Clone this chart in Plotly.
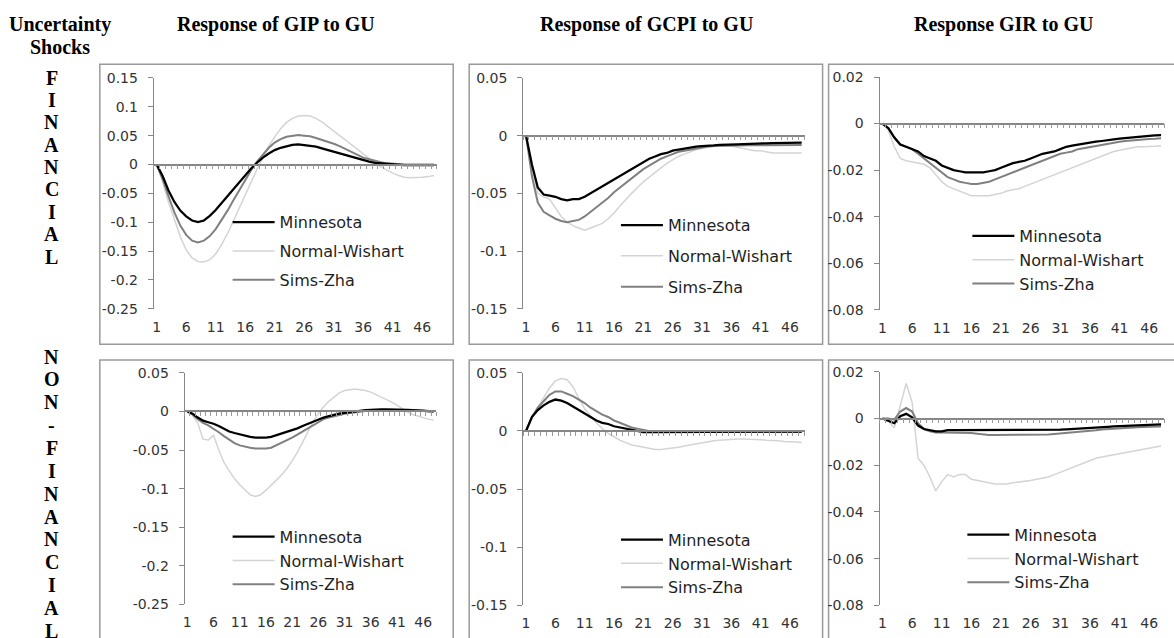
import plotly.graph_objects as go

W, H = 1174, 638          # reference geometry (all pixel positions below refer to it)
FIG_H = 645               # rendered height (compensates the slight vertical squeeze seen)

# ---------------- data ----------------
periods = list(range(1, 49))
tick_periods = [1, 6, 11, 16, 21, 26, 31, 36, 41, 46]
series_names = ["Minnesota", "Normal-Wishart", "Sims-Zha"]
column_titles = ["Response of GIP to GU", "Response of GCPI to GU", "Response GIR to GU"]
row_labels = ["FINANCIAL", "NON-FINANCIAL"]
corner_label = ["Uncertainty", "Shocks"]

# Financial uncertainty shock
fin_gip_minnesota = [0, -0.02, -0.045, -0.065, -0.08, -0.09, -0.097, -0.100, -0.097, -0.089,
                     -0.079, -0.067, -0.055, -0.042, -0.030, -0.018, -0.007, 0.003, 0.012, 0.019,
                     0.025, 0.029, 0.032, 0.034, 0.035, 0.034, 0.033, 0.031, 0.028, 0.025,
                     0.022, 0.019, 0.016, 0.013, 0.010, 0.007, 0.005, 0.003, 0.002, 0.001,
                     0.0, 0.0, -0.001, -0.001, -0.001, -0.001, -0.001, -0.001]
fin_gip_normal_wishart = [0, -0.03, -0.065, -0.097, -0.125, -0.148, -0.162, -0.168, -0.169, -0.165,
                          -0.155, -0.139, -0.12, -0.098, -0.075, -0.052, -0.03, -0.008, 0.012, 0.032,
                          0.048, 0.062, 0.073, 0.080, 0.084, 0.085, 0.084, 0.080, 0.074, 0.066,
                          0.058, 0.050, 0.042, 0.034, 0.026, 0.018, 0.010, 0.003, -0.004, -0.010,
                          -0.015, -0.019, -0.022, -0.023, -0.023, -0.022, -0.021, -0.019]
fin_gip_sims_zha = [0, -0.025, -0.055, -0.083, -0.106, -0.122, -0.132, -0.135, -0.132, -0.124,
                    -0.112, -0.097, -0.080, -0.062, -0.044, -0.026, -0.010, 0.005, 0.018, 0.029,
                    0.038, 0.044, 0.048, 0.050, 0.051, 0.050, 0.049, 0.046, 0.043, 0.040,
                    0.036, 0.032, 0.027, 0.022, 0.017, 0.012, 0.009, 0.006, 0.004, 0.002,
                    0.001, 0, 0, 0, 0, 0, 0, 0]

fin_gcpi_minnesota = [0, -0.025, -0.045, -0.051, -0.052, -0.053, -0.055, -0.056, -0.055, -0.055,
                      -0.053, -0.050, -0.047, -0.044, -0.041, -0.038, -0.035, -0.032, -0.029, -0.026,
                      -0.023, -0.020, -0.018, -0.016, -0.015, -0.013, -0.012, -0.011, -0.010, -0.0095,
                      -0.009, -0.009, -0.0085, -0.008, -0.008, -0.0078, -0.0075, -0.0073, -0.007, -0.007,
                      -0.0068, -0.0066, -0.0065, -0.0064, -0.0063, -0.0062, -0.0061, -0.006]
fin_gcpi_normal_wishart = [0, -0.028, -0.050, -0.053, -0.055, -0.062, -0.070, -0.075, -0.078, -0.080,
                           -0.082, -0.080, -0.078, -0.076, -0.072, -0.067, -0.061, -0.055, -0.050, -0.045,
                           -0.040, -0.036, -0.032, -0.028, -0.024, -0.021, -0.018, -0.016, -0.014, -0.012,
                           -0.011, -0.010, -0.0095, -0.009, -0.009, -0.009, -0.010, -0.011, -0.012, -0.013,
                           -0.013, -0.014, -0.015, -0.015, -0.015, -0.015, -0.015, -0.015]
fin_gcpi_sims_zha = [0, -0.035, -0.058, -0.066, -0.069, -0.072, -0.074, -0.075, -0.074, -0.073,
                     -0.070, -0.066, -0.062, -0.058, -0.054, -0.049, -0.045, -0.041, -0.037, -0.033,
                     -0.029, -0.026, -0.023, -0.020, -0.018, -0.016, -0.014, -0.013, -0.012, -0.011,
                     -0.010, -0.0095, -0.009, -0.009, -0.009, -0.0088, -0.0086, -0.0085, -0.0084, -0.0083,
                     -0.0082, -0.0081, -0.008, -0.008, -0.008, -0.008, -0.008, -0.008]

fin_gir_minnesota = [0, -0.002, -0.006, -0.009, -0.010, -0.011, -0.012, -0.014, -0.015, -0.016,
                     -0.018, -0.019, -0.020, -0.0205, -0.021, -0.021, -0.021, -0.021, -0.0205, -0.020,
                     -0.019, -0.018, -0.017, -0.0165, -0.016, -0.015, -0.014, -0.013, -0.0125, -0.012,
                     -0.011, -0.010, -0.0095, -0.009, -0.0085, -0.008, -0.0078, -0.0075, -0.007, -0.0068,
                     -0.0065, -0.0062, -0.006, -0.0058, -0.0055, -0.0053, -0.0051, -0.005]
fin_gir_normal_wishart = [0, -0.003, -0.010, -0.015, -0.016, -0.0165, -0.017, -0.0175, -0.019, -0.022,
                          -0.025, -0.027, -0.028, -0.029, -0.030, -0.031, -0.031, -0.031, -0.031, -0.0305,
                          -0.030, -0.029, -0.0285, -0.028, -0.027, -0.026, -0.025, -0.024, -0.023, -0.022,
                          -0.021, -0.020, -0.019, -0.018, -0.017, -0.016, -0.015, -0.014, -0.013, -0.012,
                          -0.0115, -0.011, -0.0105, -0.010, -0.010, -0.010, -0.0098, -0.0095]
fin_gir_sims_zha = [0, -0.002, -0.006, -0.009, -0.010, -0.011, -0.013, -0.015, -0.017, -0.019,
                    -0.021, -0.023, -0.024, -0.025, -0.0255, -0.026, -0.026, -0.0255, -0.025, -0.024,
                    -0.023, -0.022, -0.021, -0.020, -0.019, -0.018, -0.017, -0.016, -0.015, -0.014,
                    -0.013, -0.0125, -0.012, -0.011, -0.0105, -0.010, -0.0095, -0.009, -0.0085, -0.008,
                    -0.0078, -0.0075, -0.0072, -0.007, -0.0068, -0.0066, -0.0065, -0.0063]

# Non-financial uncertainty shock
nf_gip_minnesota = [0, -0.003, -0.008, -0.012, -0.014, -0.016, -0.019, -0.023, -0.026, -0.028,
                    -0.030, -0.032, -0.033, -0.034, -0.034, -0.034, -0.033, -0.031, -0.029, -0.027,
                    -0.025, -0.022, -0.019, -0.016, -0.013, -0.010, -0.008, -0.006, -0.004, -0.003,
                    -0.002, -0.001, 0, 0.001, 0.0015, 0.002, 0.0025, 0.0025, 0.0025, 0.0025,
                    0.002, 0.002, 0.002, 0.0015, 0.001, 0.001, 0, 0]
nf_gip_normal_wishart = [0, -0.005, -0.015, -0.036, -0.037, -0.031, -0.050, -0.066, -0.077, -0.087,
                         -0.095, -0.102, -0.108, -0.110, -0.108, -0.102, -0.096, -0.089, -0.082, -0.074,
                         -0.064, -0.053, -0.040, -0.026, -0.013, -0.003, 0.006, 0.013, 0.019, 0.024,
                         0.027, 0.028, 0.029, 0.028, 0.027, 0.025, 0.022, 0.019, 0.016, 0.012,
                         0.008, 0.003, -0.001, -0.004, -0.006, -0.008, -0.010, -0.011]
nf_gip_sims_zha = [0, -0.004, -0.010, -0.015, -0.018, -0.022, -0.027, -0.032, -0.037, -0.041,
                   -0.044, -0.046, -0.047, -0.048, -0.048, -0.048, -0.047, -0.044, -0.041, -0.038,
                   -0.034, -0.030, -0.026, -0.021, -0.017, -0.013, -0.010, -0.008, -0.006, -0.004,
                   -0.003, -0.002, -0.001, 0, 0.0005, 0.001, 0.001, 0.001, 0.001, 0.001,
                   0.001, 0.001, 0.001, 0.001, 0.001, 0.001, 0, 0]

nf_gcpi_minnesota = [0, 0.012, 0.018, 0.022, 0.025, 0.027, 0.026, 0.024, 0.021, 0.018,
                     0.015, 0.012, 0.009, 0.007, 0.006, 0.004, 0.003, 0.002, 0.001, 0.0,
                     -0.001, -0.001, -0.001, -0.001, -0.001, -0.001, -0.001, -0.001, -0.001, -0.001,
                     -0.001, -0.001, -0.0008, -0.0007, -0.0006, -0.0005, -0.0005, -0.0005, -0.0005, -0.0005,
                     -0.0005, -0.0005, -0.0005, -0.0005, -0.0005, -0.0005, -0.0005, -0.0005]
nf_gcpi_normal_wishart = [0, 0.012, 0.020, 0.028, 0.037, 0.043, 0.045, 0.044, 0.038, 0.028,
                          0.019, 0.013, 0.007, 0.002, -0.002, -0.005, -0.008, -0.010, -0.012, -0.013,
                          -0.014, -0.015, -0.016, -0.016, -0.0155, -0.015, -0.014, -0.013, -0.012, -0.011,
                          -0.010, -0.009, -0.0085, -0.008, -0.0075, -0.007, -0.007, -0.007, -0.007, -0.007,
                          -0.0075, -0.008, -0.008, -0.0085, -0.009, -0.009, -0.0095, -0.010]
nf_gcpi_sims_zha = [0, 0.012, 0.020, 0.026, 0.031, 0.034, 0.034, 0.032, 0.030, 0.027,
                    0.024, 0.020, 0.017, 0.014, 0.012, 0.009, 0.007, 0.005, 0.003, 0.002,
                    0.001, 0, -0.001, -0.001, -0.001, -0.001, -0.001, -0.001, -0.001, -0.001,
                    -0.001, -0.001, -0.001, -0.001, -0.001, -0.001, -0.001, -0.001, -0.001, -0.001,
                    -0.001, -0.001, -0.001, -0.001, -0.001, -0.001, -0.001, -0.001]

nf_gir_minnesota = [0, -0.001, -0.002, 0.001, 0.002, 0.0005, -0.003, -0.0045, -0.005, -0.0055,
                    -0.0055, -0.005, -0.005, -0.005, -0.005, -0.005, -0.005, -0.005, -0.005, -0.005,
                    -0.005, -0.005, -0.005, -0.005, -0.005, -0.005, -0.005, -0.005, -0.0049, -0.0048,
                    -0.0047, -0.0046, -0.0045, -0.0043, -0.0042, -0.004, -0.0039, -0.0037, -0.0036, -0.0034,
                    -0.0033, -0.0032, -0.003, -0.0029, -0.0028, -0.0027, -0.0026, -0.0025]
nf_gir_normal_wishart = [0, -0.001, -0.004, 0.006, 0.015, 0.007, -0.017, -0.020, -0.025, -0.031,
                         -0.027, -0.024, -0.025, -0.024, -0.024, -0.026, -0.0265, -0.027, -0.0275, -0.028,
                         -0.028, -0.028, -0.0275, -0.0272, -0.027, -0.0265, -0.026, -0.0255, -0.025, -0.024,
                         -0.023, -0.022, -0.021, -0.020, -0.019, -0.018, -0.017, -0.0165, -0.016, -0.0155,
                         -0.015, -0.0145, -0.014, -0.0135, -0.013, -0.0125, -0.012, -0.0118]
nf_gir_sims_zha = [0, 0, -0.0005, 0.003, 0.0045, 0.003, -0.002, -0.0045, -0.0055, -0.006,
                   -0.006, -0.006, -0.006, -0.006, -0.006, -0.0062, -0.0065, -0.0068, -0.007, -0.007,
                   -0.007, -0.007, -0.007, -0.007, -0.007, -0.007, -0.007, -0.007, -0.0068, -0.0066,
                   -0.0064, -0.0062, -0.006, -0.0058, -0.0055, -0.0052, -0.005, -0.0047, -0.0045, -0.0042,
                   -0.004, -0.0039, -0.0038, -0.0037, -0.0036, -0.0035, -0.0034, -0.0034]

# ---------------- styling / layout ----------------
series_colors = ["#000000", "#d4d4d4", "#808080"]
series_widths = [2.25, 1.5, 2.0]
axis_grey = "#868686"
tick_font = dict(family="DejaVu Sans", size=14, color="#333333")
legend_font = dict(family="DejaVu Sans", size=16, color="#1f1f1f")
title_font = dict(family="Liberation Serif", size=20, color="#000000")

panels = [
    dict(data=(fin_gip_minnesota, fin_gip_normal_wishart, fin_gip_sims_zha),
         yr=(-0.25, 0.15), step=0.05, px=(152, 435.7), py=(71, 305), leg=(226, 200), gap=5),
    dict(data=(fin_gcpi_minnesota, fin_gcpi_normal_wishart, fin_gcpi_sims_zha),
         yr=(-0.15, 0.05), step=0.05, px=(522, 804), py=(71, 305), leg=(615, 203), gap=7),
    dict(data=(fin_gir_minnesota, fin_gir_normal_wishart, fin_gir_sims_zha),
         yr=(-0.08, 0.02), step=0.02, px=(879, 1164), py=(70, 306), leg=(967, 214), gap=0),
    dict(data=(nf_gip_minnesota, nf_gip_normal_wishart, nf_gip_sims_zha),
         yr=(-0.25, 0.05), step=0.05, px=(183, 435), py=(370, 605), leg=(226, 519), gap=0),
    dict(data=(nf_gcpi_minnesota, nf_gcpi_normal_wishart, nf_gcpi_sims_zha),
         yr=(-0.15, 0.05), step=0.05, px=(522, 804), py=(370, 606), leg=(615, 522), gap=0),
    dict(data=(nf_gir_minnesota, nf_gir_normal_wishart, nf_gir_sims_zha),
         yr=(-0.08, 0.02), step=0.02, px=(879, 1164), py=(369, 606), leg=(962, 517), gap=0),
]
boxes = [(98, 57, 452, 341), (468, 57, 822, 341), (828, 57, 1180, 341),
         (98, 357, 452, 660), (468, 357, 822, 660), (828, 357, 1180, 660)]


def fmt(v):
    s = f"{round(v, 4):g}"
    return "0" if s in ("0", "-0") else s


fig = go.Figure()
layout = dict(width=W, height=FIG_H, margin=dict(l=0, r=0, t=0, b=0), autosize=False,
              paper_bgcolor="white", plot_bgcolor="white", showlegend=True)

xr = [0.5, len(periods) + 0.5]
for i, p in enumerate(panels, start=1):
    ymin, ymax = p["yr"]
    n = int(round((ymax - ymin) / p["step"]))
    yvals = [round(ymin + k * p["step"], 4) for k in range(n + 1)]
    xd = [p["px"][0] / W, p["px"][1] / W]
    yd = [1 - p["py"][1] / H, 1 - p["py"][0] / H]
    zero_frac = yd[0] + (0 - ymin) / (ymax - ymin) * (yd[1] - yd[0])

    layout[f"xaxis{i}"] = dict(domain=xd, anchor=f"y{i}", range=xr, showline=False, showgrid=False,
                               zeroline=False, ticks="", tickvals=tick_periods,
                               ticktext=[str(t) for t in tick_periods], tickfont=tick_font,
                               ticklabelstandoff=8)
    layout[f"yaxis{i}"] = dict(domain=yd, anchor=f"x{i}", range=[ymin, ymax], showline=True,
                               linecolor=axis_grey, linewidth=1, ticks="outside", ticklen=5,
                               tickcolor=axis_grey, tickvals=yvals, ticktext=[fmt(v) for v in yvals],
                               showgrid=False, zeroline=False, tickfont=tick_font,
                               ticklabelstandoff=7)
    # category axis crossing at zero, with a tick at every category boundary
    layout[f"xaxis{i + 6}"] = dict(overlaying=f"x{i}", anchor="free", position=zero_frac,
                                   range=xr, showline=True, linecolor=axis_grey, linewidth=1.5,
                                   ticks="outside", ticklen=4, tickwidth=1, tickcolor="#9a9a9a",
                                   tickvals=[k + 0.5 for k in range(len(periods) + 1)],
                                   showticklabels=False, showgrid=False, zeroline=False)
    fig.add_trace(go.Scatter(x=[periods[0]], y=[0], xaxis=f"x{i + 6}", yaxis=f"y{i}",
                             mode="markers", marker=dict(opacity=0), showlegend=False,
                             hoverinfo="skip"))

    leg_name = "legend" if i == 1 else f"legend{i}"
    layout[leg_name] = dict(x=p["leg"][0] / W, y=1 - p["leg"][1] / H, xanchor="left", yanchor="top",
                            bgcolor="rgba(0,0,0,0)", font=legend_font, itemwidth=42,
                            tracegroupgap=p["gap"], traceorder="grouped")
    for s in [1, 2, 0]:
        fig.add_trace(go.Scatter(x=periods, y=p["data"][s], xaxis=f"x{i}", yaxis=f"y{i}",
                                 mode="lines", name=series_names[s],
                                 line=dict(color=series_colors[s], width=series_widths[s]),
                                 legend=leg_name, legendgroup=f"p{i}s{s}", legendrank=s + 1))

shapes = []
for (x0, y0, x1, y1) in boxes:
    shapes.append(dict(type="rect", xref="paper", yref="paper", x0=x0 / W, x1=x1 / W,
                       y0=1 - y1 / H, y1=1 - y0 / H, line=dict(color="#9a9a9a", width=1.5),
                       fillcolor="rgba(0,0,0,0)", layer="below"))
layout["shapes"] = shapes

ann = []
title_x = [274, 646, 1003]
for t, xc in zip(column_titles, title_x):
    ann.append(dict(text=f"<b>{t}</b>", x=xc / W, y=1 - 16.5 / H, xref="paper", yref="paper",
                    showarrow=False, xanchor="center", yanchor="middle", font=title_font))
for k, t in enumerate(corner_label):
    ann.append(dict(text=f"<b>{t}</b>", x=58 / W, y=1 - (17 + 22.5 * k) / H, xref="paper",
                    yref="paper", showarrow=False, xanchor="center", yanchor="middle",
                    font=title_font))
row_starts = [69.5, 352.5]
row_steps = [22.7, 23.2]
for lab, y0, st in zip(row_labels, row_starts, row_steps):
    for k, ch in enumerate(lab):
        ann.append(dict(text=f"<b>{ch}</b>", x=50 / W, y=1 - (y0 + 1 + k * st) / H, xref="paper",
                        yref="paper", showarrow=False, xanchor="center", yanchor="middle",
                        font=title_font))
layout["annotations"] = ann

fig.update_layout(**layout)

page_fix = (
    "var gd=document.getElementById('{plot_id}');"
    "gd.style.position='fixed';gd.style.left='0px';gd.style.top='0px';gd.style.margin='0px';"
    "document.documentElement.style.margin='0px';document.documentElement.style.padding='0px';"
    "document.documentElement.style.overflow='hidden';"
    "document.body.style.margin='0px';document.body.style.padding='0px';"
    "document.body.style.overflow='hidden';"
)
fig.write_html("out.html", config={"displayModeBar": False, "responsive": False},
               post_script=page_fix)
